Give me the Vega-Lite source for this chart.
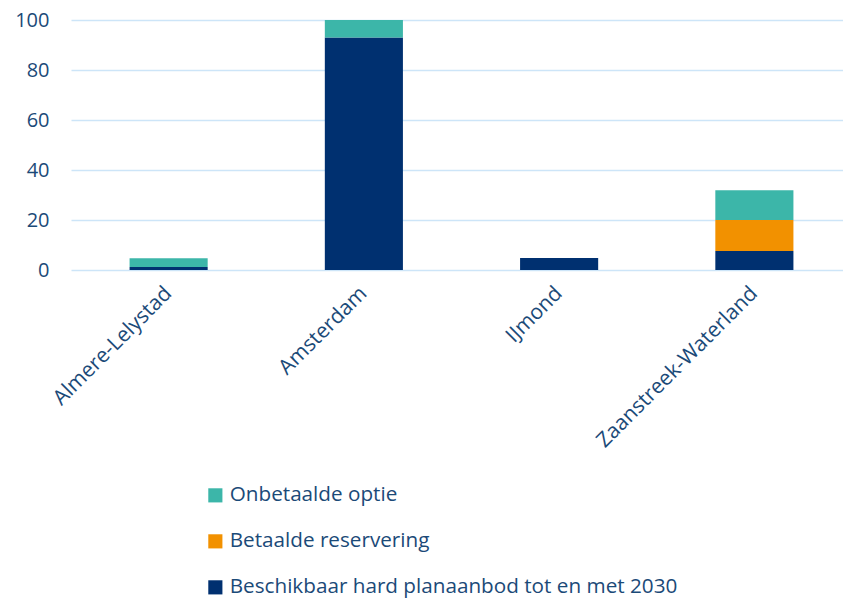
{
  "$schema": "https://vega.github.io/schema/vega-lite/v6.json",
  "width": 781,
  "height": 250,
  "autosize": "none",
  "padding": {"left": 71, "top": 20, "right": 0, "bottom": 332},
  "background": "white",
  "config": {
    "font": "Open Sans",
    "view": {"stroke": null}
  },
  "data": {
    "values": [
      {"region": "Almere-Lelystad", "type": "Beschikbaar hard planaanbod tot en met 2030", "value": 1.2, "o": 1},
      {"region": "Almere-Lelystad", "type": "Betaalde reservering", "value": 0, "o": 2},
      {"region": "Almere-Lelystad", "type": "Onbetaalde optie", "value": 3.5, "o": 3},
      {"region": "Amsterdam", "type": "Beschikbaar hard planaanbod tot en met 2030", "value": 93, "o": 1},
      {"region": "Amsterdam", "type": "Betaalde reservering", "value": 0, "o": 2},
      {"region": "Amsterdam", "type": "Onbetaalde optie", "value": 7, "o": 3},
      {"region": "IJmond", "type": "Beschikbaar hard planaanbod tot en met 2030", "value": 4.8, "o": 1},
      {"region": "IJmond", "type": "Betaalde reservering", "value": 0, "o": 2},
      {"region": "IJmond", "type": "Onbetaalde optie", "value": 0, "o": 3},
      {"region": "Zaanstreek-Waterland", "type": "Beschikbaar hard planaanbod tot en met 2030", "value": 7.6, "o": 1},
      {"region": "Zaanstreek-Waterland", "type": "Betaalde reservering", "value": 12.4, "o": 2},
      {"region": "Zaanstreek-Waterland", "type": "Onbetaalde optie", "value": 11.9, "o": 3}
    ]
  },
  "mark": {"type": "bar"},
  "encoding": {
    "x": {
      "field": "region",
      "type": "nominal",
      "sort": null,
      "title": null,
      "scale": {"paddingInner": 0.6, "paddingOuter": 0.3},
      "axis": {
        "labelAngle": -45,
        "labelAlign": "right",
        "labelBaseline": "middle",
        "labelPadding": 20,
        "labelFontSize": 21,
        "labelLimit": 0,
        "labelColor": "#1B4A78",
        "ticks": false,
        "domain": false
      }
    },
    "y": {
      "field": "value",
      "type": "quantitative",
      "stack": "zero",
      "title": null,
      "scale": {"domain": [0, 100]},
      "axis": {
        "values": [0, 20, 40, 60, 80, 100],
        "labelFontSize": 20,
        "labelColor": "#1B4A78",
        "labelPadding": 22,
        "ticks": false,
        "domain": false,
        "gridColor": "#CDE5F8",
        "gridWidth": 1.5
      }
    },
    "color": {
      "field": "type",
      "type": "nominal",
      "scale": {
        "domain": ["Onbetaalde optie", "Betaalde reservering", "Beschikbaar hard planaanbod tot en met 2030"],
        "range": ["#3CB6A9", "#F29100", "#003070"]
      },
      "legend": {
        "title": null,
        "orient": "none",
        "legendX": 134,
        "legendY": 465,
        "direction": "vertical",
        "symbolType": "square",
        "symbolSize": 200,
        "symbolStrokeWidth": 0,
        "labelFontSize": 20.7,
        "labelLimit": 0,
        "labelColor": "#1B4A78",
        "rowPadding": 24,
        "labelOffset": 4
      }
    },
    "order": {"field": "o", "type": "quantitative"}
  }
}
